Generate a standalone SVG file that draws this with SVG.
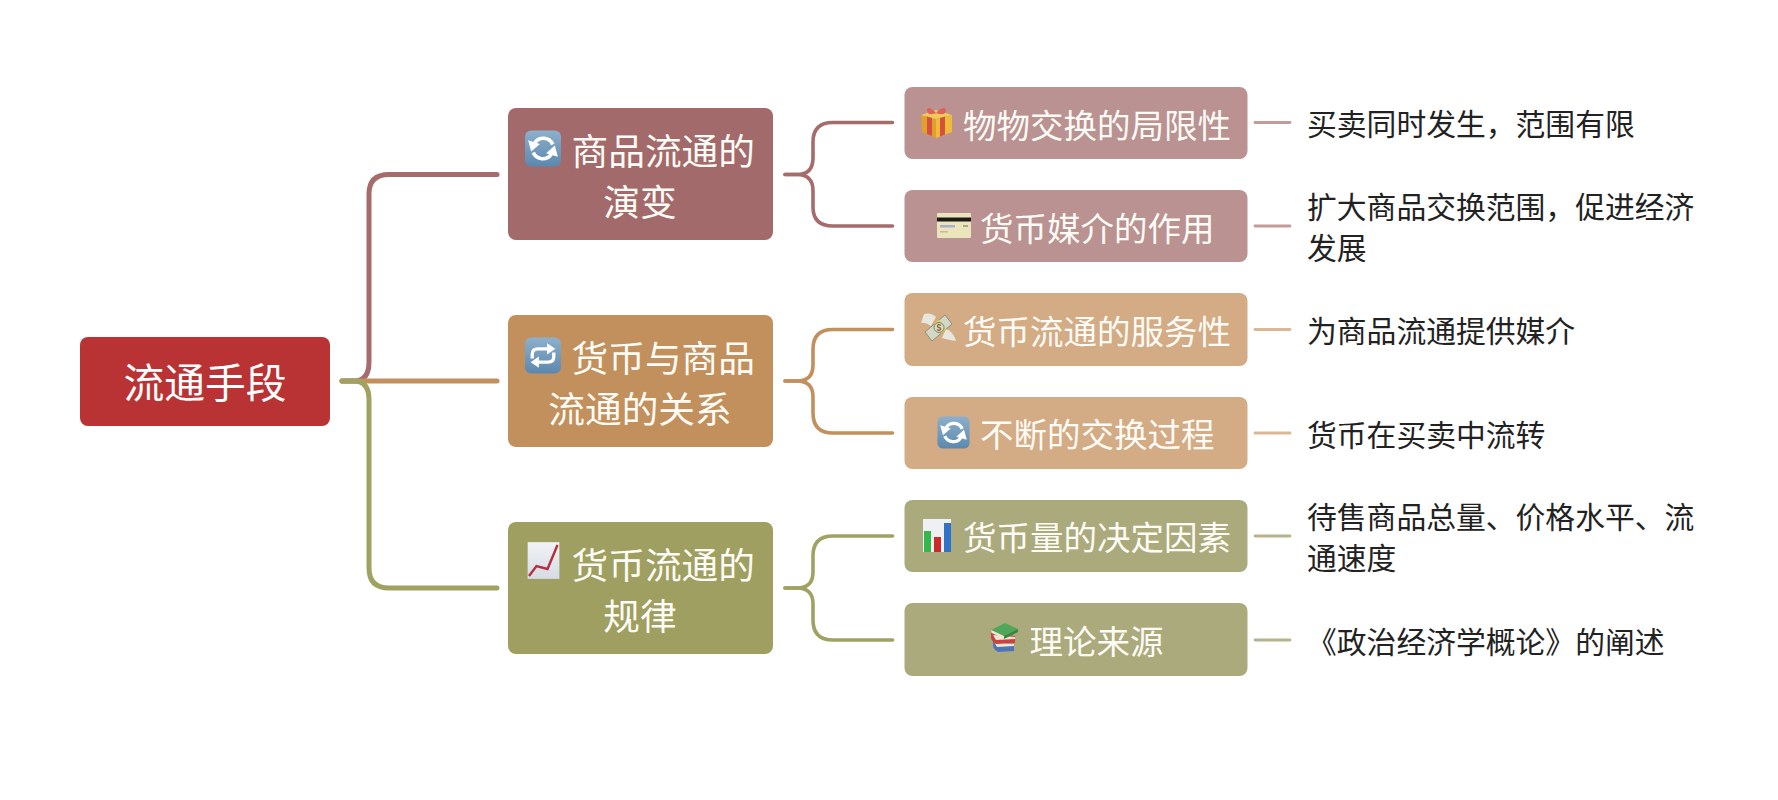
<svg xmlns="http://www.w3.org/2000/svg" width="1778" height="800" viewBox="0 0 1778 800">
<style>
text{font-family:"Liberation Serif","Noto Sans CJK SC",serif}
.root{font-size:40.8px;fill:#fff}
.l1{font-size:36.7px;fill:#fdfbf5}
.l2{font-size:33.5px;fill:#fdfbf5}
.leaf{font-size:29.8px;fill:#222}
.c1,.c2,.c3,.lf{fill:none;stroke-linecap:round;stroke-linejoin:round}
.c1{stroke-width:5}
.c2{stroke-width:3.6}
.lf{stroke-width:2.8}
.a{stroke:#a66c6c}.b{stroke:#c1905c}.c{stroke:#a0a262}
.a2{stroke:#c39c9a}.b2{stroke:#dbb795}.c2l{stroke:#b5b48c}
</style>
<defs>
<linearGradient id="bluebg" x1="0" y1="0" x2="0" y2="1"><stop offset="0" stop-color="#8db0cc"/><stop offset="1" stop-color="#5c88ae"/></linearGradient>
<linearGradient id="chartbg" x1="0" y1="0" x2="0" y2="1"><stop offset="0" stop-color="#f2f3f6"/><stop offset="1" stop-color="#d5dbe4"/></linearGradient>
<symbol id="sync" viewBox="0 0 36 36">
<rect x="0.5" y="0.5" width="35" height="35" rx="6" fill="url(#bluebg)"/>
<path d="M27.500 14A10 10 0 0 0 10 12.500" fill="none" stroke="#fff" stroke-width="3.600"/>
<path d="M3.500 10L15 13.500L6.500 21Z" fill="#fff"/>
<path d="M8.500 22A10 10 0 0 0 26 23.500" fill="none" stroke="#fff" stroke-width="3.600"/>
<path d="M32.500 26L21 22.500L29.500 15Z" fill="#fff"/>
</symbol>
<symbol id="repeat" viewBox="0 0 36 36">
<rect x="0.5" y="0.5" width="35" height="35" rx="6" fill="url(#bluebg)"/>
<path d="M7.500 21V17Q7.500 11.500 13 11.500H23" fill="none" stroke="#fff" stroke-width="3.200"/>
<path d="M22 6L30 11.500L22 17Z" fill="#fff"/>
<path d="M28.500 15V19Q28.500 24.500 23 24.500H13" fill="none" stroke="#fff" stroke-width="3.200"/>
<path d="M14 19L6 24.500L14 30Z" fill="#fff"/>
</symbol>
<symbol id="gift" viewBox="0 0 33 33">
<path d="M1 10L16 14V33L2 27Z" fill="#dfa02e"/>
<path d="M16 14L32 10V27L16 33Z" fill="#eebc3a"/>
<path d="M1 10L16 5L32 10L16 14Z" fill="#f0cb58"/>
<path d="M7 11.500L12 13V31L7 29ZM20 13L25 11.500V29.500L20 31.500Z" fill="#d6503f"/>
<path d="M16 8C9 0 5 3 8 8C10 10 14 9 16 8C18 9 23 10 25 8C28 3 23 0 16 8Z" fill="#e0615a"/>
</symbol>
<symbol id="card" viewBox="0 0 34 25">
<rect x="0" y="0" width="34" height="25" rx="1" fill="#ece4bd"/>
<rect x="0" y="4.500" width="34" height="4" fill="#1d1a16"/>
<rect x="3" y="12" width="15" height="2.500" fill="#aab0cc"/>
<rect x="26" y="12" width="5" height="2" fill="#a8a68c"/>
<rect x="3" y="18" width="8" height="1.500" fill="#c4bc92"/>
</symbol>
<symbol id="money" viewBox="0 0 35 31">
<path d="M3 2Q10 0 15 5L10 14Q4 10 0 11Z" fill="#e9e6de"/>
<path d="M25 17Q32 19 35 29Q27 28 21 26Z" fill="#e9e6de"/>
<path d="M4 20L24 3L31 12L11 29Z" fill="#d3d7c6" stroke="#8b8f80" stroke-width="1"/>
<path d="M13 11.500L17.500 7.500L25 17.500L20.500 21.500Z" fill="#e2c84c"/>
<circle cx="18" cy="15.500" r="5" fill="#d8d9c6" stroke="#7e8270" stroke-width="1"/>
<path d="M20 13.500Q17 11.500 16.500 14Q16.500 15.500 18 15.500Q20 16 19.500 17.500Q18 19 16 17.500" fill="none" stroke="#8a6a20" stroke-width="1.300"/>
</symbol>
<symbol id="bars" viewBox="0 0 28 33">
<rect width="28" height="33" fill="#eef0f4"/>
<rect x="1" y="12" width="7" height="21" fill="#34b84a"/>
<rect x="11" y="18" width="7" height="15" fill="#cc2a2a"/>
<rect x="21" y="4" width="7" height="29" fill="#2f73c8"/>
</symbol>
<symbol id="trend" viewBox="0 0 32 37">
<rect width="32" height="37" fill="url(#chartbg)" stroke="#c4c9c4" stroke-width="0.600"/>
<path d="M1.500 34L9 24L20 27L30 3" fill="none" stroke="#b92e3c" stroke-width="2.400"/>
</symbol>
<symbol id="books" viewBox="0 0 28 29">
<path d="M3 18L24 21V28L8 29Q3 26 3 22Z" fill="#4d74b8"/>
<path d="M4 19L24 21V23L7 24Z" fill="#ece7d4"/>
<path d="M1 10L25 13V20L6 21Q1 18 1 14Z" fill="#c9423f"/>
<path d="M3 12L25 14V16L6 17Z" fill="#ece7d4"/>
<path d="M1 7L15 0L28 6L14 13Z" fill="#4fa85a"/>
<path d="M1 7L14 13V16L2 10Z" fill="#ece7d4"/>
<path d="M14 13L28 6V9L14 16Z" fill="#37853f"/>
</symbol>
</defs>
<rect width="1778" height="800" fill="#fff"/>
<g id="connectors">
<path class="c1 a" d="M342 381H354Q369 381 369 362V194Q369 174.500 389 174.500H497"/>
<path class="c1 b" d="M342 381H497"/>
<path class="c1 c" d="M342 381H354Q369 381 369 400V568Q369 588 389 588H497"/>
<path class="c2 a" d="M785 174.500H797Q813 174.500 813 158V142Q813 122.500 833 122.500H892.500"/>
<path class="c2 a" d="M785 174.500H797Q813 174.500 813 191V207Q813 226 833 226H892.500"/>
<path class="c2 b" d="M785 381H797Q813 381 813 365V349Q813 329.500 833 329.500H892.500"/>
<path class="c2 b" d="M785 381H797Q813 381 813 397V413Q813 433 833 433H892.500"/>
<path class="c2 c" d="M785 588H797Q813 588 813 572V556Q813 536 833 536H892.500"/>
<path class="c2 c" d="M785 588H797Q813 588 813 604V620Q813 640 833 640H892.500"/>
<path class="lf a2" d="M1255 122.500H1290"/>
<path class="lf a2" d="M1255 226H1290"/>
<path class="lf b2" d="M1255 329.500H1290"/>
<path class="lf b2" d="M1255 433H1290"/>
<path class="lf c2l" d="M1255 536H1290"/>
<path class="lf c2l" d="M1255 640H1290"/>
</g>
<g id="root">
<rect x="80" y="337" width="250" height="89" rx="8" fill="#b93234"/>
<text class="root" x="205" y="398" text-anchor="middle">流通手段</text>
</g>
<g id="n1">
<rect x="508" y="108" width="265" height="132" rx="8" fill="#a26a6a"/>
<use href="#sync" x="524.500" y="130" width="37" height="37"/>
<text class="l1" x="571.500" y="164.500">商品流通的</text>
<text class="l1" x="640" y="216" text-anchor="middle">演变</text>
</g>
<g id="n2">
<rect x="508" y="315" width="265" height="132" rx="8" fill="#c1905c"/>
<use href="#repeat" x="524.500" y="337" width="37" height="37"/>
<text class="l1" x="571.500" y="371.500">货币与商品</text>
<text class="l1" x="640" y="423" text-anchor="middle">流通的关系</text>
</g>
<g id="n3">
<rect x="508" y="522" width="265" height="132" rx="8" fill="#9e9f60"/>
<use href="#trend" x="527.500" y="542" width="32" height="37"/>
<text class="l1" x="571.500" y="578.500">货币流通的</text>
<text class="l1" x="640" y="630" text-anchor="middle">规律</text>
</g>
<g id="n1a">
<rect x="904.500" y="87" width="343" height="72" rx="8" fill="#b99291"/>
<use href="#gift" x="920" y="105" width="33" height="33"/>
<text class="l2" x="963" y="138">物物交换的局限性</text>
</g>
<g id="n1b">
<rect x="904.500" y="190" width="343" height="72" rx="8" fill="#b99291"/>
<use href="#card" x="937" y="213" width="34" height="25"/>
<text class="l2" x="980" y="240.500">货币媒介的作用</text>
</g>
<g id="n2a">
<rect x="904.500" y="293" width="343" height="73" rx="8" fill="#d3ab85"/>
<use href="#money" x="921" y="312" width="35" height="31"/>
<text class="l2" x="963" y="344">货币流通的服务性</text>
</g>
<g id="n2b">
<rect x="904.500" y="397" width="343" height="72" rx="8" fill="#d3ab85"/>
<use href="#sync" x="937" y="416" width="33" height="33"/>
<text class="l2" x="980" y="447">不断的交换过程</text>
</g>
<g id="n3a">
<rect x="904.500" y="500" width="343" height="72" rx="8" fill="#abaa7c"/>
<use href="#bars" x="923" y="519" width="28" height="33"/>
<text class="l2" x="963" y="550">货币量的决定因素</text>
</g>
<g id="n3b">
<rect x="904.500" y="603" width="343" height="73" rx="8" fill="#abaa7c"/>
<use href="#books" x="990" y="623" width="28" height="29"/>
<text class="l2" x="1029.500" y="654">理论来源</text>
</g>
<g id="leaf1"><text class="leaf" x="1307" y="135">买卖同时发生，范围有限</text></g>
<g id="leaf2"><text class="leaf" x="1307" y="218">扩大商品交换范围，促进经济</text><text class="leaf" x="1307" y="259">发展</text></g>
<g id="leaf3"><text class="leaf" x="1307" y="342">为商品流通提供媒介</text></g>
<g id="leaf4"><text class="leaf" x="1307" y="446">货币在买卖中流转</text></g>
<g id="leaf5"><text class="leaf" x="1307" y="528">待售商品总量、价格水平、流</text><text class="leaf" x="1307" y="569">通速度</text></g>
<g id="leaf6"><text class="leaf" x="1307" y="653">《政治经济学概论》的阐述</text></g>
</svg>
